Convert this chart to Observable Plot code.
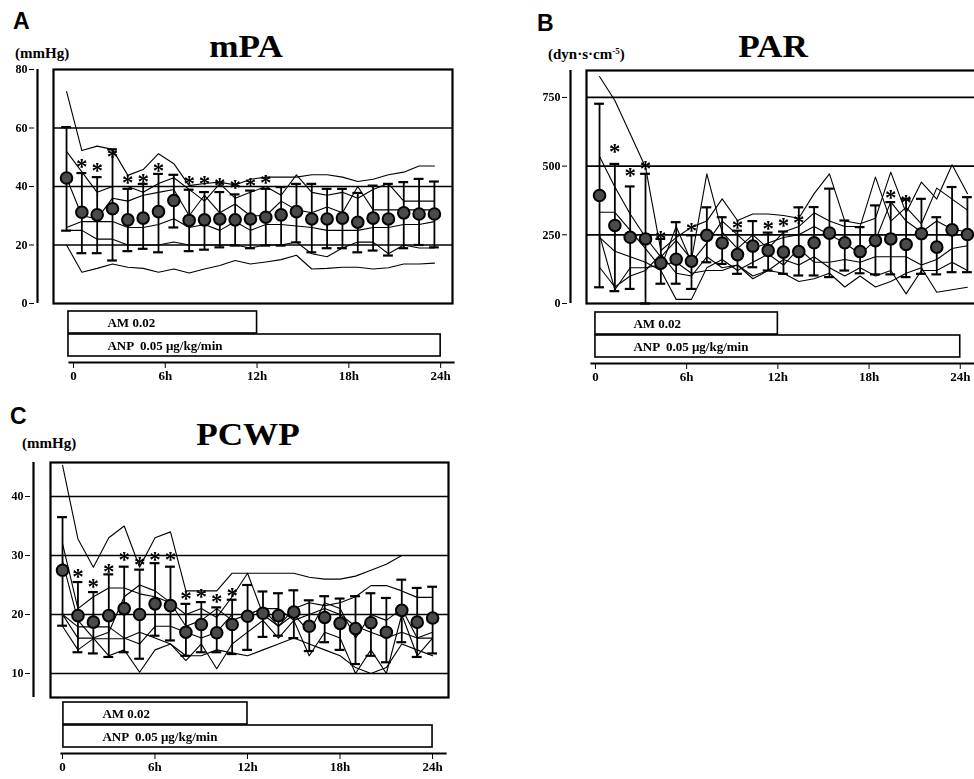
<!DOCTYPE html>
<html><head><meta charset="utf-8">
<script src="https://cdn.jsdelivr.net/npm/d3@7"></script>
<script src="https://cdn.jsdelivr.net/npm/@observablehq/plot@0.6"></script>
<style>
html,body{margin:0;padding:0;background:#fff;}
body{width:974px;height:779px;overflow:hidden;position:relative;font-family:"Liberation Serif","DejaVu Serif",serif;color:#000;}
.abs{position:absolute;line-height:1;white-space:nowrap;}
.letter{font-family:"Liberation Sans",Arial,sans-serif;font-weight:bold;font-size:23px;}
.title{font-weight:bold;font-size:32px;transform:translateX(-50%) scaleX(1.1);}
.unit{font-weight:bold;font-size:15px;}
svg{overflow:visible;}
.stars{will-change:transform;}
</style></head>
<body>
<script>
// ---------- shared categories ----------
const hours = [0,1,2,3,4,5,6,7,8,9,10,11,12,13,14,15,16,17,18,19,20,21,22,23,24];
const timeTicks = [0,6,12,18,24];
const timeTickLabels = ["0","6h","12h","18h","24h"];
const treatLabels = ["AM 0.02","ANP  0.05 μg/kg/min"];
const treatStart = [0,0];
const treatEnd = [12,24];

// ---------- A: mPA (mmHg) ----------
const mpaMean  = [42.9,31.2,30.3,32.4,28.6,29.2,31.4,35.2,28.4,28.6,28.9,28.6,28.9,29.5,30.3,31.4,28.9,28.9,29.2,27.8,29.2,28.9,31.0,30.6,30.6];
const mpaUpper = [60.3,44.6,43.2,52.7,39.2,40.9,44.3,44.0,38.9,38.1,38.1,37.3,38.6,39.2,39.8,40.9,40.9,39.2,39.2,37.8,40.3,40.9,41.5,42.6,41.7];
const mpaLower = [24.9,17.2,17.2,14.7,17.9,18.7,17.5,26.0,17.9,18.4,19.2,19.8,18.9,19.8,19.8,20.9,17.5,18.9,18.9,17.5,18.1,16.4,18.9,20.0,19.2];
const mpaStarHours = [1,2,3,4,5,6,8,9,10,11,12,13];
const mpaStarY = [48.6,47.0,51.8,42.9,43.5,47.2,42.6,42.6,42.0,41.3,42.0,43.2];
const mpaPatients = [
  [72.5,52.3,53.8,52.7,43.8,45.8,51.2,47.8,40.3,41.0,41.5,40.5,42.5,43.2,43.2,43.2,44.0,44.0,43.2,41.7,42.5,44.0,44.9,47.0,47.0],
  [52,45,38,40,40,38,41,43,39,35,41,36,38,40,37,44,38,37,38,36,39,41,35,35,35],
  [43,30,29,36,35,37,38,39,30,37,31,34,30,30,35,32,31,33,31,40,32,32,32,32,32],
  [26,28,28,28,26,26,27,29,26,27,25,28,25,27,27,26.5,26,25,25,25,26,26,27,27,28],
  [25,25,22,22,20,20,20,21,20,20,20,20,19,20,20,21,17,16,19,21,21,17,20,19,19],
  [20,10.7,12,13.5,12.4,12.0,10.7,11.8,10.4,11.8,13.0,14.7,13.5,14.2,15.0,16.5,11.8,12.0,12.4,12.4,11.8,12.2,13.5,13.5,13.8]
];
const mpaYTicks = [0,20,40,60,80];
const mpaGrid = [20,40,60];

// ---------- B: PAR (dyn·s·cm-5) ----------
const parMean  = [393,284,241,235,147,161,154,248,220,178,209,193,187,189,221,256,221,189,229,235,215,254,205,268,251];
const parUpper = [727,508,426,472,235,296,248,350,314,265,300,258,262,350,351,418,302,278,357,369,381,381,314,424,387];
const parLower = [59,45,53,0,72,72,53,150,144,108,132,120,108,102,102,96,120,110,106,106,96,108,106,114,114];
const parStarHours = [1,2,3,4,6,9,11,12,13,19,20];
const parStarY = [572,484,508,254,284,296,292,302,314,405,387];
const parPatients = [
  [826,739,618,496,193,240,278,300,381,302,326,326,320,310,400,472,300,290,310,478,330,442,380,505,400],
  [535,424,326,241,169,230,160,472,260,200,250,200,260,280,330,300,280,280,460,300,350,290,420,380,340],
  [332,332,266,200,130,280,150,220,300,250,200,220,240,250,280,250,220,180,230,370,300,260,300,270,260],
  [241,190,170,150,120,15,15,130,160,120,150,180,140,200,150,150,160,150,170,170,170,140,160,200,210],
  [132,60,100,120,180,110,100,170,130,140,90,120,160,140,170,130,100,130,100,120,35,120,120,150,120],
  [250,50,130,130,140,150,110,120,120,140,100,120,110,80,90,110,60,100,60,80,110,130,41,50,59]
];
const parYTicks = [0,250,500,750];
const parGrid = [250,500,750];

// ---------- C: PCWP (mmHg) ----------
const pcwpMean  = [27.5,19.8,18.7,19.8,21.0,20.0,21.8,21.5,17.0,18.3,16.9,18.3,19.7,20.2,19.8,20.4,18.0,19.5,18.5,17.6,18.6,17.0,20.7,18.7,19.4];
const pcwpUpper = [36.5,25.5,23.8,26.8,28.1,27.6,28.7,28.1,21.8,22.1,21.2,22.5,25.0,23.9,23.6,24.1,22.4,23.1,22.7,23.1,23.6,22.8,25.9,24.5,24.7];
const pcwpLower = [18.1,13.6,13.4,12.8,13.6,12.5,16.4,15.6,13.0,13.6,13.6,13.3,14.0,16.2,16.4,16.0,13.8,15.3,14.0,11.6,13.0,11.9,15.3,12.8,13.4];
const pcwpStarHours = [1,2,3,4,5,6,7,8,9,10,11];
const pcwpStarY = [27.2,25.6,28.1,30.1,29.3,30.1,30.1,23.5,23.8,23.1,24.1];
const pcwpPatients = [
  [45.3,32.8,28,33,35,28,33,34,24,24,24,27,27,27,27,27,26.3,26,26,26.5,27.5,28.5,30,30,30],
  [32,21,23,24.5,24.5,23.5,23,22,20,21,19.5,23,27,20,18,21,22,21.5,22,23,24.9,24.9,24,22.9,22.9],
  [29,19,16,17,23,25,24,22,18,19,21,19,20,21,18,20,17,22,21,16,20,19,21,16,17],
  [20,16,16,13,14,10.2,14,15,12.2,15,10.8,15,17,19,16,19,13,17,16,10,14,10,20,13,16],
  [18,14,15.9,15.9,15.9,17,16,15,13,13,14,13.5,13,14,15,16,15,14,13,11,10,11,15,14,13],
  [20,17.9,17.9,17.9,16,15,18,18,17,16,17,20,20,21,21,19,20,21,20,18,17,16,17,16,16]
];
const pcwpYTicks = [10,20,30,40];
const pcwpGrid = [10,20,30,40];

// ---------- helpers ----------
const svgStyle = {fontFamily:"'Liberation Serif','DejaVu Serif',serif", fontWeight:"bold", fontSize:"12px", background:"transparent", overflow:"visible"};

function place(node, left, top){
  node.style.position = "absolute";
  node.style.left = left + "px";
  node.style.top = top + "px";
  document.body.appendChild(node);
}
function label(text, cls, left, top, html){
  const d = document.createElement("div");
  d.className = "abs " + cls;
  if (html) d.innerHTML = text; else d.textContent = text;
  d.style.left = left + "px"; d.style.top = top + "px";
  document.body.appendChild(d);
}

function mainPlot(o){
  const pts = hours.map((h,i)=>({h, m:o.mean[i], u:o.upper[i], l:o.lower[i]}));
  const lineData = o.patients.flatMap((arr,k)=>arr.map((v,i)=>({k, h:hours[i], v})));
  const starData = o.starHours.map((h,i)=>({h, v:o.starY[i]}));
  const cap = 0.32;
  return Plot.plot({
    width:o.width, height:o.height,
    marginLeft:o.marginLeft, marginRight:o.marginRight, marginTop:o.marginTop, marginBottom:o.marginBottom,
    style: svgStyle,
    x:{domain:o.xDomain, axis:null},
    y:{domain:o.yDomain, axis:null},
    marks:[
      Plot.ruleY(o.grid, {stroke:"#000", strokeWidth:1.7}),
      Plot.line(lineData, {x:"h", y:"v", z:"k", stroke:"#000", strokeWidth:1.1}),
      Plot.ruleX(pts, {x:"h", y1:"l", y2:"u", stroke:"#000", strokeWidth:1.8}),
      Plot.ruleY(pts, {y:"u", x1:d=>d.h-cap, x2:d=>d.h+cap, stroke:"#000", strokeWidth:2.2}),
      Plot.ruleY(pts, {y:"l", x1:d=>d.h-cap, x2:d=>d.h+cap, stroke:"#000", strokeWidth:2.2}),
      Plot.dot(pts, {x:"h", y:"m", r:5.8, fill:"#4a4a4a", stroke:"#000", strokeWidth:2}),
      Plot.text(starData, {x:"h", y:"v", text:()=>"*", fontSize:23, dy:5, fill:"#000", className:"stars"}),
      Plot.frame({stroke:"#000", strokeWidth:2.2}),
      Plot.ruleX([o.xDomain[0]], {dx:-o.axisGap, stroke:"#000", strokeWidth:2.2}),
      Plot.axisY({ticks:o.yTicks, tickSize:5, tickPadding:2, dx:-(o.axisGap+3), fontSize:12, fontWeight:"bold"})
    ]
  });
}

function timePlot(o){
  const treatments = treatLabels.map((lab,i)=>({label:lab, start:treatStart[i], end:treatEnd[i]}));
  return Plot.plot({
    width:o.width, height:82,
    marginLeft:o.marginLeft, marginRight:o.marginRight, marginTop:5, marginBottom:25,
    style: svgStyle,
    x:{domain:o.xDomain, axis:null},
    y:{domain:treatLabels, range:[5,52], padding:0.04, axis:null},
    marks:[
      Plot.barX(treatments, {x1:"start", x2:"end", y:"label", fill:"#fff", stroke:"#000", strokeWidth:1.6, insetLeft:o.boxInset}),
      Plot.text(treatments, {x:"start", y:"label", text:"label", textAnchor:"start", dx:o.textDx, fontSize:13, fontWeight:"bold"}),
      Plot.frame({anchor:"bottom", stroke:"#000", strokeWidth:2.2}),
      Plot.axisX({ticks:timeTicks, tickFormat:d=>timeTickLabels[timeTicks.indexOf(d)], tickSize:6, tickPadding:2, fontSize:13, fontWeight:"bold"})
    ]
  });
}

// ---------- Panel A ----------
label("A","letter",13,10);
label("mPA","title",246,30);
label("(mmHg)","unit",15,46);
place(mainPlot({mean:mpaMean, upper:mpaUpper, lower:mpaLower, patients:mpaPatients, starHours:mpaStarHours, starY:mpaStarY,
  yDomain:[0,80], yTicks:mpaYTicks, grid:mpaGrid, xDomain:[-0.85,25.18],
  width:460, height:248, marginLeft:53, marginRight:8, marginTop:9, marginBottom:5, axisGap:16}), 0, 60);
place(timePlot({width:460, marginLeft:69, marginRight:7, xDomain:[-0.26,24.84], boxInset:-5, textDx:34}), 0, 305);

// ---------- Panel B ----------
label("B","letter",537,12);
label("PAR","title",773,30);
label("(dyn·s·cm<sup style='font-size:9px;vertical-align:5px'>-5</sup>)","unit",548,47,true);
place(mainPlot({mean:parMean, upper:parUpper, lower:parLower, patients:parPatients, starHours:parStarHours, starY:parStarY,
  yDomain:[0,848], yTicks:parYTicks, grid:parGrid, xDomain:[-0.85,25.18],
  width:503, height:247, marginLeft:96, marginRight:8, marginTop:9, marginBottom:5, axisGap:16}), 490, 61);
place(timePlot({width:503, marginLeft:101, marginRight:3, xDomain:[-0.26,25.99], boxInset:0, textDx:38}), 490, 306);

// ---------- Panel C ----------
label("C","letter",10,405);
label("PCWP","title",248,418);
label("(mmHg)","unit",22,436);
place(mainPlot({mean:pcwpMean, upper:pcwpUpper, lower:pcwpLower, patients:pcwpPatients, starHours:pcwpStarHours, starY:pcwpStarY,
  yDomain:[5.93,45.76], yTicks:pcwpYTicks, grid:pcwpGrid, xDomain:[-0.78,25.03],
  width:460, height:249, marginLeft:50, marginRight:12, marginTop:9, marginBottom:5, axisGap:17}), 0, 453);
place(timePlot({width:460, marginLeft:61, marginRight:15, xDomain:[-0.06,24.84], boxInset:1, textDx:40}), 0, 696);
</script>
</body></html>
